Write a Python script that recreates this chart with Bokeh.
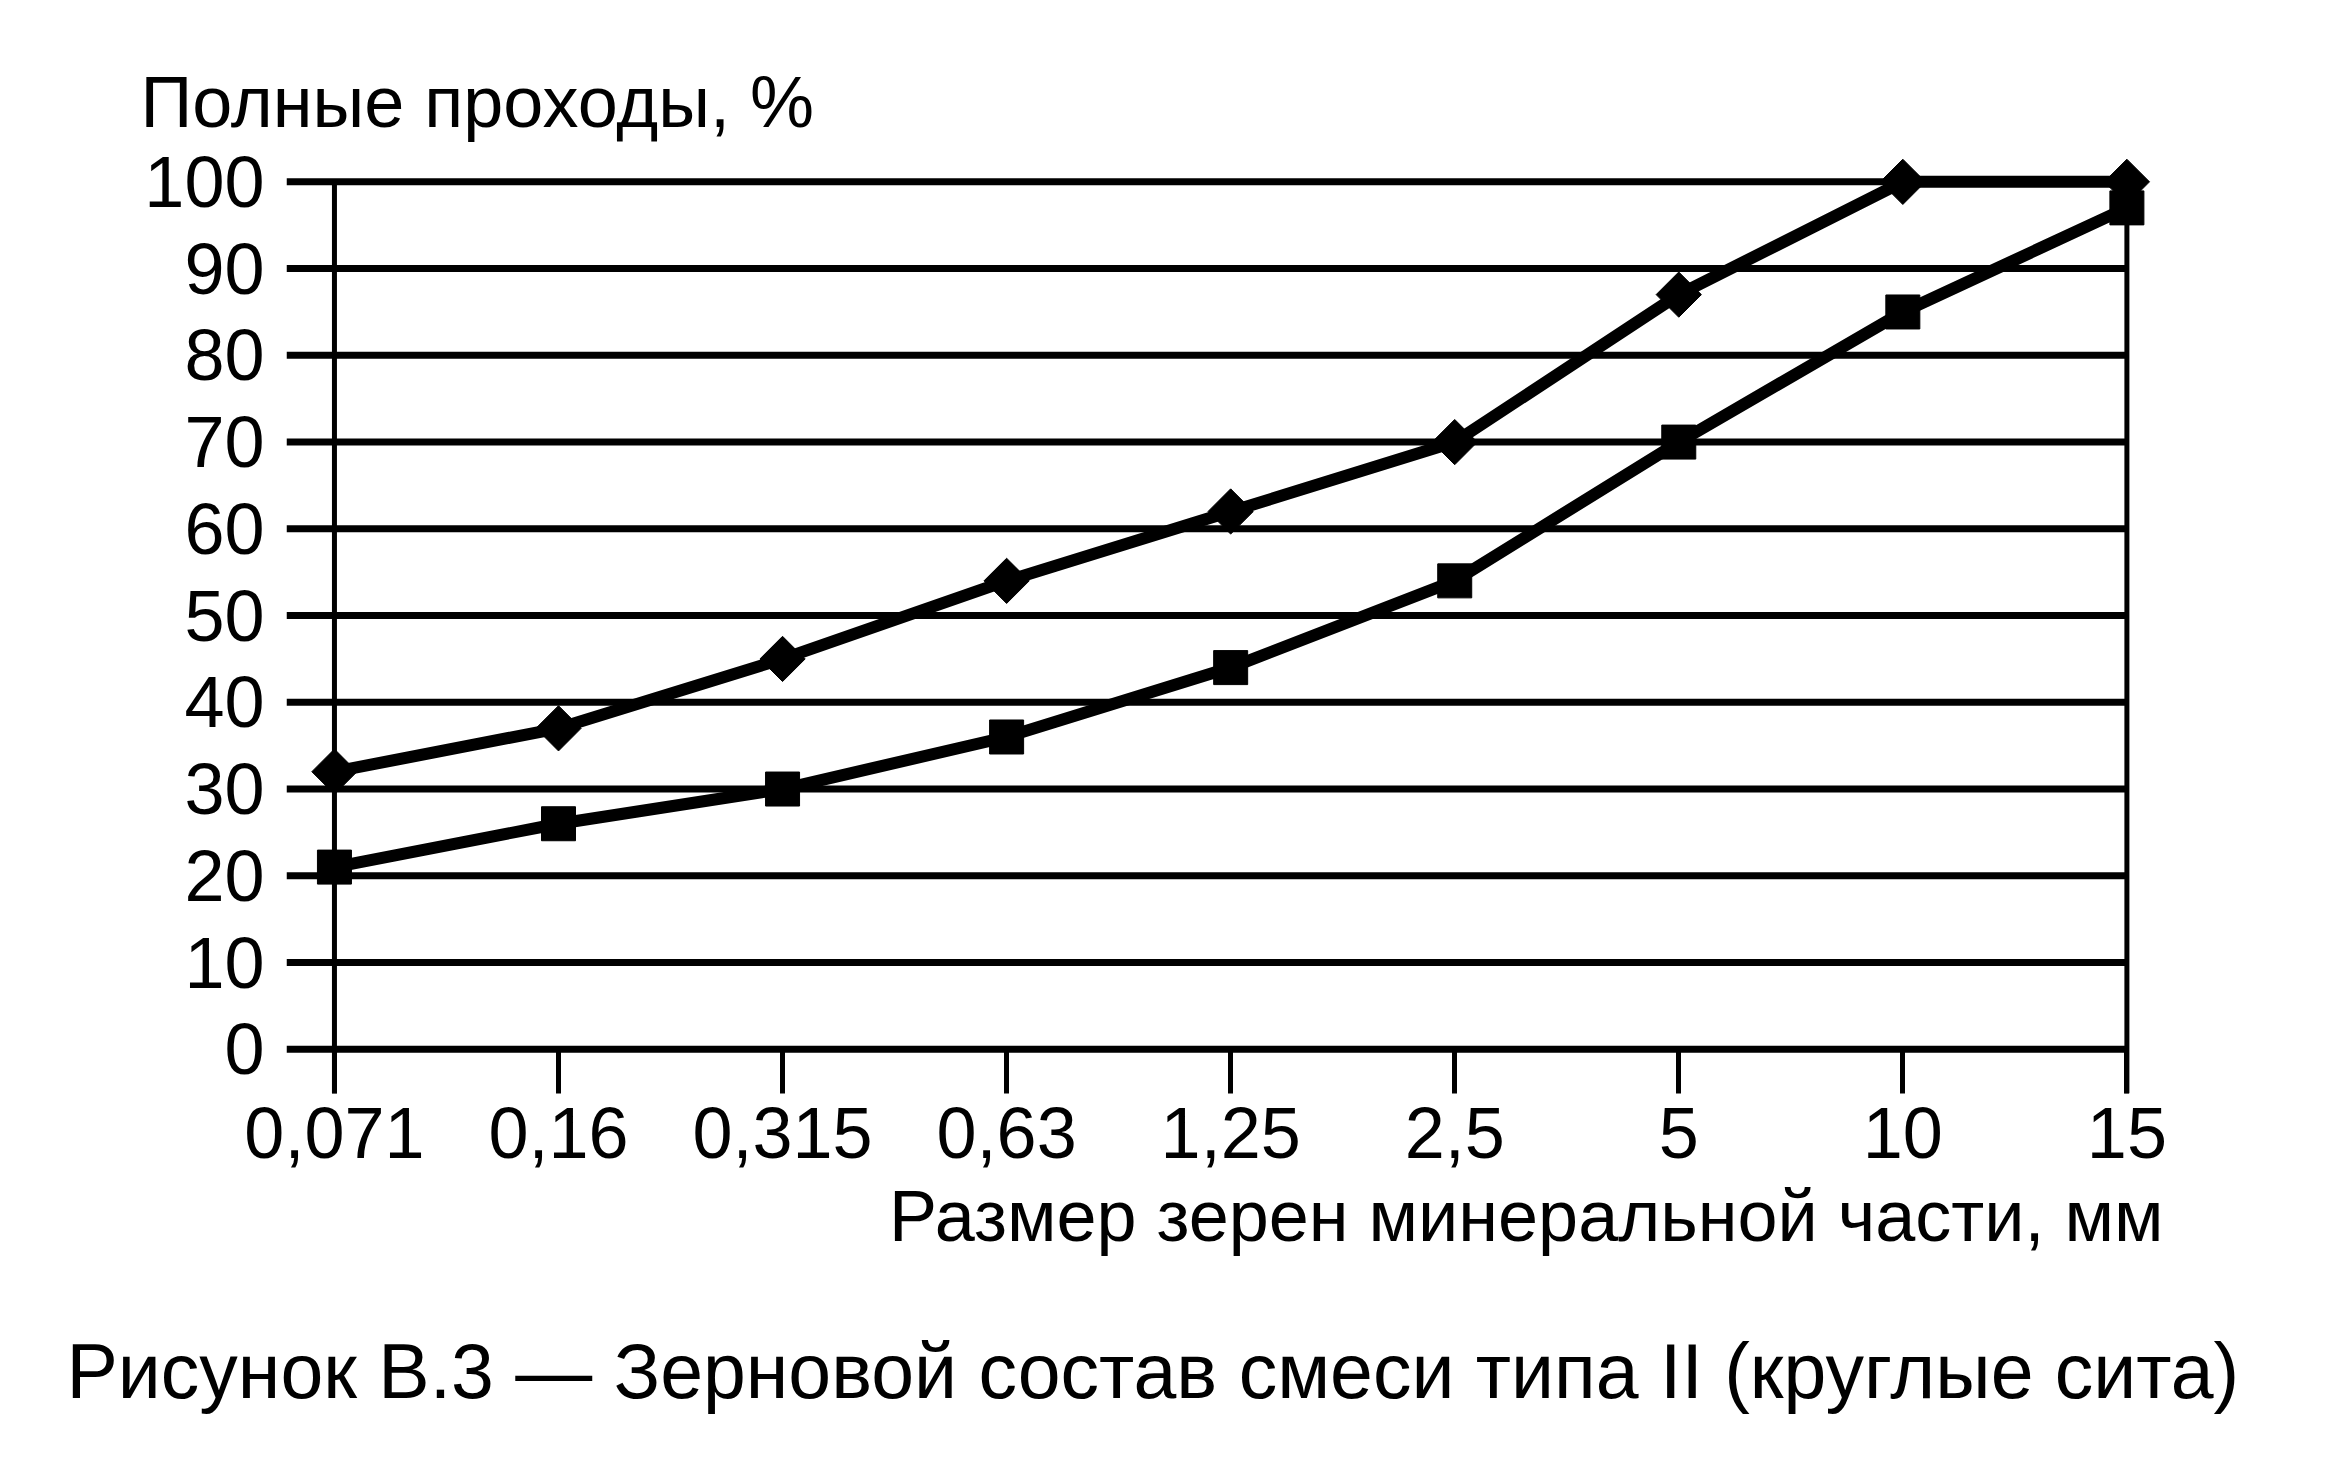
import numpy as np
from bokeh.plotting import figure
from bokeh.models import Range1d, FixedTicker, Title
from bokeh.embed import file_html
from bokeh.resources import INLINE

# ---- data ----
sizes = ["0,071", "0,16", "0,315", "0,63", "1,25", "2,5", "5", "10", "15"]
upper = [32, 37, 45, 54, 62, 70, 87, 100, 100]
lower = [21, 26, 30, 36, 44, 54, 70, 85, 97]
y_ticks = list(range(0, 101, 10))

y_title = "Полные проходы, %"
x_title = "Размер зерен минеральной части, мм"
caption = "Рисунок В.3 — Зерновой состав смеси типа II (круглые сита)"

FONT = "Liberation Sans"
FS = "72px"

W, H = 2309, 1459
xs = list(range(len(sizes)))
n_last = xs[-1]
x_start = -0.214
y_start = -5.1
y_end = 103.5

p = figure(width=W, height=H, output_backend="svg", toolbar_location=None,
           x_range=Range1d(x_start, n_last + 0.15), y_range=Range1d(y_start, y_end),
           min_border_left=286, min_border_right=149, min_border_top=151,
           min_border_bottom=366, title=y_title)
p.grid.visible = False
p.outline_line_color = None
p.background_fill_color = "white"
p.border_fill_color = "white"

# title (y axis caption at top-left)
p.title.align = "left"
p.title.offset = -146
p.title.text_font = FONT
p.title.text_font_size = FS
p.title.text_font_style = "normal"
p.title.text_color = "black"
p.title.standoff = 20

# horizontal grid lines (extend left of the axis like outward ticks)
p.segment(x0=[x_start] * len(y_ticks), y0=y_ticks, x1=[n_last] * len(y_ticks), y1=y_ticks,
          line_color="black", line_width=7)
# left axis line and right border line
p.segment(x0=[xs[0], n_last], y0=[y_ticks[-1]] * 2, x1=[xs[0], n_last], y1=[y_start] * 2,
          line_color="black", line_width=5)

# series
p.line(xs, upper, line_color="black", line_width=12)
p.line(xs, lower, line_color="black", line_width=12)
p.scatter(xs, upper, marker="square", angle=np.pi / 4, size=32,
          fill_color="black", line_color="black")
p.scatter(xs, lower, marker="square", size=34, fill_color="black", line_color="black")

# x axis
xa = p.xaxis[0]
xa.ticker = FixedTicker(ticks=xs)
xa.major_label_overrides = {i: s for i, s in zip(xs, sizes)}
xa.axis_line_color = None
xa.major_tick_in = 44
xa.major_tick_out = 0
xa.major_tick_line_width = 5
xa.major_tick_line_color = "black"
xa.minor_tick_line_color = None
xa.major_label_standoff = 14
xa.major_label_text_font = FONT
xa.major_label_text_font_size = FS
xa.major_label_text_color = "black"

# y axis
ya = p.yaxis[0]
ya.ticker = FixedTicker(ticks=y_ticks)
ya.axis_line_color = None
ya.major_tick_in = 0
ya.major_tick_out = 0
ya.minor_tick_line_color = None
ya.major_label_standoff = 22
ya.major_label_text_font = FONT
ya.major_label_text_font_size = FS
ya.major_label_text_color = "black"

# x axis title (right aligned)
t_x = Title(text=x_title, align="right", offset=-3, text_font=FONT, text_font_size=FS,
            text_font_style="normal", text_color="black", standoff=26)
p.add_layout(t_x, "below")

# vertical gap before the figure caption
gap = Title(text=" ", text_font_size="1px", standoff=54)
p.add_layout(gap, "below")

# figure caption
t_c = Title(text=caption, align="left", offset=-220, text_font=FONT, text_font_size="77px",
            text_font_style="normal", text_color="black", standoff=0)
p.add_layout(t_c, "below")

open("out.html", "w").write(file_html(p, INLINE))
